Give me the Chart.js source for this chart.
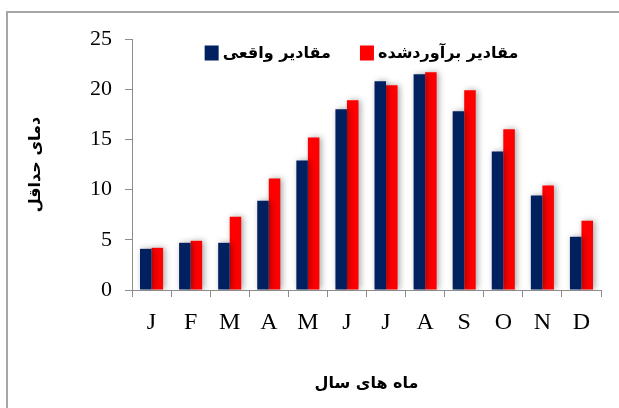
<!DOCTYPE html>
<html>
<head>
<meta charset="utf-8">
<script src="https://cdn.jsdelivr.net/npm/chart.js@4.4.1/dist/chart.umd.min.js"></script>
<style>
  html, body { margin: 0; padding: 0; background: #fff; }
  #wrap { position: relative; width: 619px; height: 408px; overflow: hidden; }
  #frame { position: absolute; left: 6px; top: 11px; width: 700px; height: 500px;
           border-left: 2px solid #a6a6a6; border-top: 2px solid #a6a6a6; }
  #chart { position: absolute; left: 0; top: 0; }
</style>
</head>
<body>
<div id="wrap">
  <div id="frame"></div>
  <canvas id="chart" width="619" height="408"></canvas>
</div>
<script>
var months = ['J', 'F', 'M', 'A', 'M', 'J', 'J', 'A', 'S', 'O', 'N', 'D'];
var observed = [4.1, 4.7, 4.7, 8.9, 12.9, 18.0, 20.8, 21.5, 17.8, 13.8, 9.4, 5.3];
var estimated = [4.2, 4.9, 7.3, 11.1, 15.2, 18.9, 20.4, 21.7, 19.9, 16.0, 10.4, 6.9];
var yTicks = [0, 5, 10, 15, 20, 25];

var seriesNames = ['مقادیر واقعی', 'مقادیر برآوردشده'];
var xTitle = 'ماه های سال';
var yTitle = 'دمای حداقل';

var axisColor = '#8c8c8c';

// soft drop shadow behind the bars
var barShadow = {
    id: 'barShadow',
    beforeDatasetsDraw: function(chart) {
        var ctx = chart.ctx;
        ctx.save();
        ctx.shadowColor = 'rgba(0,0,0,0.35)';
        ctx.shadowBlur = 6;
        ctx.shadowOffsetX = 2;
        ctx.shadowOffsetY = 0;
    },
    afterDatasetsDraw: function(chart) {
        chart.ctx.restore();
    }
};

// legend row sitting inside the top of the plot area
var insideLegend = {
    id: 'insideLegend',
    afterDraw: function(chart) {
        var ctx = chart.ctx;
        var area = chart.chartArea;
        var boxW = 14, boxH = 15, gap = 4, itemGap = 29;
        ctx.save();
        ctx.font = 'bold 16px "DejaVu Sans"';
        ctx.textBaseline = 'middle';
        ctx.textAlign = 'left';
        var items = chart.data.datasets.map(function(ds) {
            return { label: ds.label, color: ds.backgroundColor, w: ctx.measureText(ds.label).width };
        });
        var total = 0;
        items.forEach(function(it, i) {
            total += boxW + gap + it.w + (i < items.length - 1 ? itemGap : 0);
        });
        var x = (area.left + area.right) / 2 - 5 - total / 2;
        var cy = area.top + 14;
        items.forEach(function(it) {
            ctx.fillStyle = it.color;
            ctx.fillRect(x, cy - boxH / 2, boxW, boxH);
            x += boxW + gap;
            ctx.fillStyle = '#000';
            ctx.fillText(it.label, x, cy + 1);
            x += it.w + itemGap;
        });
        ctx.restore();
    }
};

var ctx = document.getElementById('chart');

var chart = new Chart(ctx, {
    type: 'bar',
    data: {
        labels: months,
        datasets: [{
            label: seriesNames[0],
            data: observed,
            backgroundColor: '#002060',
            borderWidth: 0
        }, {
            label: seriesNames[1],
            data: estimated,
            backgroundColor: '#ff0000',
            borderWidth: 0
        }]
    },
    options: {
        responsive: false,
        animation: false,
        categoryPercentage: 0.59,
        barPercentage: 1.0,
        layout: {
            padding: { left: 10, right: 18, top: 39, bottom: 0 }
        },
        plugins: {
            legend: { display: false },
            tooltip: { enabled: false }
        },
        scales: {
            x: {
                afterFit: function(scale) { scale.height = 118; },
                grid: {
                    display: true,
                    drawOnChartArea: false,
                    drawTicks: true,
                    tickLength: 7,
                    color: axisColor
                },
                border: { color: axisColor, width: 1 },
                ticks: {
                    color: '#000',
                    padding: 11,
                    maxRotation: 0,
                    font: { family: 'Liberation Serif', size: 24 }
                },
                title: {
                    display: true,
                    text: xTitle,
                    color: '#000',
                    padding: { top: 0, bottom: 15 },
                    font: { family: 'DejaVu Sans', size: 16, weight: 'bold' }
                }
            },
            y: {
                min: 0,
                max: 25,
                afterFit: function(scale) { scale.width = 122; },
                afterBuildTicks: function(scale) {
                    scale.ticks = yTicks.map(function(v) { return { value: v }; });
                },
                grid: {
                    display: true,
                    drawOnChartArea: false,
                    drawTicks: true,
                    tickLength: 7,
                    color: axisColor
                },
                border: { color: axisColor, width: 1 },
                ticks: {
                    color: '#000',
                    padding: 13,
                    font: { family: 'Liberation Serif', size: 22 }
                },
                title: {
                    display: true,
                    text: yTitle,
                    color: '#000',
                    padding: { top: 16, bottom: 0 },
                    font: { family: 'DejaVu Sans', size: 16, weight: 'bold' }
                }
            }
        }
    },
    plugins: [barShadow, insideLegend]
});
</script>
</body>
</html>
